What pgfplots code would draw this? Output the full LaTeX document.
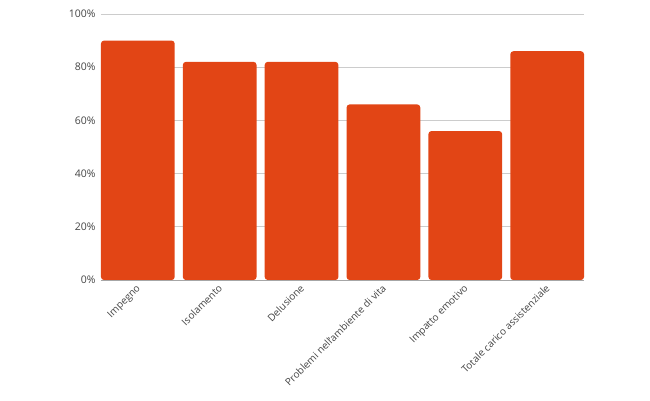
\documentclass[border=0pt]{standalone}
\usepackage{fontspec}
\setmainfont{Open Sans}
\usepackage{pgfplots}
\pgfplotsset{compat=1.18}
\definecolor{barcol}{HTML}{E24515}
\definecolor{gridcol}{HTML}{CCCCCC}
\definecolor{txtcol}{HTML}{444444}

\begin{document}
\begin{tikzpicture}
  \useasboundingbox (-101pt,-120pt) rectangle (549pt,280pt);
  \begin{axis}[%
    at={(0pt,0pt)}, anchor=south west,
    scale only axis,
    width=483pt,
    height=266pt,
    ybar,
    bar width=0.9,
    bar shift=0pt,
    xmin=-0.45, xmax=5.45,
    ymin=0, ymax=100,
    axis line style={draw=none},
    ymajorgrids,
    grid style={gridcol, line width=0.8pt},
    major tick length=0pt,
    ytick={0,20,...,100},
    yticklabel={\pgfmathprintnumber{\tick}\%},
    xtick={0,...,5},
    xticklabels={Impegno, Isolamento, Delusione, Problemi nell{\char"27}ambiente di vita, Impatto emotivo, Totale carico assistenziale},
    every tick label/.append style={font=\fontsize{10.5}{12}\selectfont, text=txtcol},
    x tick label style={font=\fontsize{10}{12}\selectfont, rotate=45, anchor=north east, inner sep=2pt, yshift=1pt, xshift=-2pt},
    y tick label style={xshift=-2pt},
    /pgf/number format/assume math mode=true,
    clip=false,
    ]
    \addplot[fill=barcol, draw=none, rounded corners=3pt] coordinates {
      (0, 90)
      (1, 82)
      (2, 82)
      (3, 66)
      (4, 56)
      (5, 86)
    };
    \draw[color=gray!70, line width=0.8pt] (axis cs:-0.45,0) -- (axis cs:5.45,0);
  \end{axis}
\end{tikzpicture}
\end{document}
